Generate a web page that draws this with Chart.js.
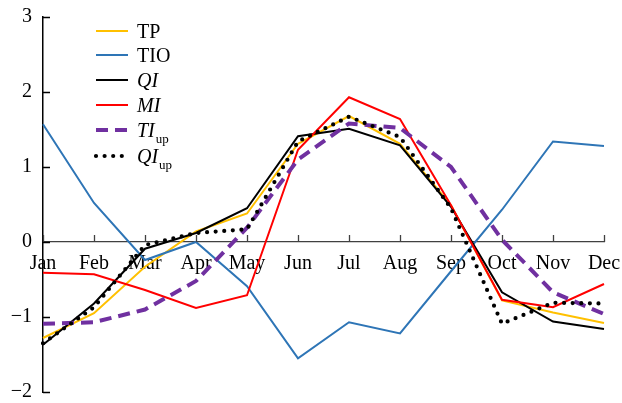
<!DOCTYPE html>
<html>
<head>
<meta charset="utf-8">
<script src="https://cdn.jsdelivr.net/npm/chart.js@4/dist/chart.umd.min.js"></script>
<style>
  html, body { margin: 0; padding: 0; background: #fff; }
  #wrap { position: relative; width: 622px; height: 403px; }
</style>
</head>
<body>
<div id="wrap"><canvas id="c"></canvas></div>
<script>
// Months along the horizontal axis
const months = ['Jan', 'Feb', 'Mar', 'Apr', 'May', 'Jun', 'Jul', 'Aug', 'Sep', 'Oct', 'Nov', 'Dec'];

// Monthly index values
const TP    = [-1.28, -0.95, -0.33, 0.14, 0.38, 1.31, 1.68, 1.31, 0.49, -0.78, -0.94, -1.08];
const TIO   = [1.57, 0.52, -0.24, 0.00, -0.59, -1.55, -1.07, -1.22, -0.39, 0.43, 1.34, 1.28];
const QI    = [-1.37, -0.82, -0.09, 0.12, 0.45, 1.41, 1.51, 1.29, 0.47, -0.67, -1.06, -1.16];
const MI    = [-0.41, -0.43, -0.64, -0.88, -0.71, 1.23, 1.93, 1.64, 0.49, -0.77, -0.87, -0.56];
const TIup  = [-1.09, -1.07, -0.90, -0.52, 0.19, 1.10, 1.58, 1.52, 1.00, 0.03, -0.67, -0.96];
const QIup  = [-1.35, -0.87, -0.04, 0.12, 0.17, 1.34, 1.67, 1.40, 0.45, -1.09, -0.81, -0.82];

// Legend entries: main text, whether italic, subscript
const seriesNames  = ['TP', 'TIO', 'QI', 'MI', 'TI', 'QI'];
const seriesItalic = [false, false, true, true, true, true];
const seriesSub    = ['', '', '', '', 'up', 'up'];

// Vertical axis range and tick labels
const yMin = -2, yMax = 3;
const yTickLabels = ['\u22122', '\u22121', '0', '1', '2', '3'];

const SERIF = '"Liberation Serif", "Times New Roman", serif';

const styles = [
  { color: '#FFC000', width: 2,   dash: [] },
  { color: '#2E75B6', width: 2,   dash: [] },
  { color: '#000000', width: 2,   dash: [] },
  { color: '#FF0000', width: 2,   dash: [] },
  { color: '#7030A0', width: 4,   dash: [12, 7], cap: 'butt' },
  { color: '#000000', width: 4.2, dash: [0, 8.6], cap: 'round' }
];
const seriesData = [TP, TIO, QI, MI, TIup, QIup];

const datasets = seriesData.map((d, i) => ({
  label: seriesNames[i] + seriesSub[i],
  data: d,
  borderColor: styles[i].color,
  backgroundColor: styles[i].color,
  borderWidth: styles[i].width,
  borderDash: styles[i].dash,
  borderCapStyle: styles[i].cap || 'butt',
  borderJoinStyle: 'miter',
  pointRadius: 0,
  tension: 0,
  fill: false,
  order: seriesData.length - i
}));

// Plot frame inside the canvas
const frame = { left: 43, right: 604, top: 17, bottom: 392 };

// Pin the plot area to the frame
const pinArea = {
  id: 'pinArea',
  afterLayout(chart) {
    const a = chart.chartArea;
    a.left = frame.left; a.right = frame.right; a.top = frame.top; a.bottom = frame.bottom;
    a.width = frame.right - frame.left; a.height = frame.bottom - frame.top;
    const { x, y } = chart.scales;
    y.top = frame.top; y.bottom = frame.bottom; y.height = a.height;
    y.right = frame.left; y.left = 0; y.width = frame.left;
    x.left = frame.left; x.right = frame.right; x.width = a.width;
    y.configure(); x.configure();
    const y0 = y.getPixelForValue(0);
    x.top = y0; x.bottom = y0 + 30; x.height = 30;
  }
};

// Short inward tick marks on both axes
const innerTicks = {
  id: 'innerTicks',
  afterDatasetsDraw(chart) {
    const { ctx, scales: { x, y } } = chart;
    const y0 = y.getPixelForValue(0);
    ctx.save();
    ctx.strokeStyle = '#404040';
    ctx.lineWidth = 1.3;
    ctx.beginPath();
    x.ticks.forEach((t, i) => {
      const px = Math.round(x.getPixelForTick(i)) + 0.5;
      ctx.moveTo(px, y0);
      ctx.lineTo(px, y0 - 7);
    });
    ctx.stroke();
    ctx.strokeStyle = '#000';
    ctx.lineWidth = 1.5;
    ctx.beginPath();
    y.ticks.forEach((t, i) => {
      const py = Math.round(y.getPixelForTick(i)) + 0.5;
      ctx.moveTo(chart.chartArea.left, py);
      ctx.lineTo(chart.chartArea.left + 7, py);
    });
    ctx.stroke();
    ctx.restore();
  }
};

// Legend with italic names and subscripts
const customLegend = {
  id: 'customLegend',
  afterDraw(chart) {
    const { ctx } = chart;
    const rows = [31, 55, 80, 105, 130, 156];
    const x0 = 96, x1 = 128, tx = 137;
    ctx.save();
    chart.data.datasets.forEach((ds, i) => {
      const yy = rows[i];
      ctx.beginPath();
      ctx.strokeStyle = ds.borderColor;
      ctx.lineWidth = ds.borderWidth;
      ctx.setLineDash(ds.borderDash);
      ctx.lineCap = ds.borderCapStyle;
      ctx.moveTo(x0, yy);
      ctx.lineTo(x1, yy);
      ctx.stroke();
      ctx.setLineDash([]);
      ctx.fillStyle = '#000';
      ctx.textBaseline = 'alphabetic';
      ctx.textAlign = 'left';
      ctx.font = (seriesItalic[i] ? 'italic ' : '') + '20px ' + SERIF;
      const base = yy + 7;
      ctx.fillText(seriesNames[i], tx, base);
      if (seriesSub[i]) {
        const w = ctx.measureText(seriesNames[i]).width;
        ctx.font = '13px ' + SERIF;
        ctx.fillText(seriesSub[i], tx + w + 1, base + 6);
      }
    });
    ctx.restore();
  }
};

new Chart(document.getElementById('c'), {
  type: 'line',
  data: { labels: months, datasets },
  options: {
    responsive: true,
    maintainAspectRatio: false,
    animation: false,
    layout: { padding: 0 },
    plugins: { legend: { display: false }, tooltip: { enabled: false } },
    scales: {
      x: {
        type: 'category',
        offset: false,
        position: { y: 0 },
        grid: { display: false, drawTicks: false },
        border: { display: true, color: '#404040', width: 1.3 },
        ticks: {
          color: '#000',
          padding: 10,
          maxRotation: 0,
          autoSkip: false,
          font: { family: SERIF, size: 20 }
        }
      },
      y: {
        min: yMin,
        max: yMax,
        grid: { display: false, drawTicks: false },
        border: { display: true, color: '#000', width: 1.5 },
        ticks: {
          stepSize: 1,
          color: '#000',
          padding: 11,
          font: { family: SERIF, size: 20 },
          callback: (v) => yTickLabels[Math.round(v) - yMin]
        }
      }
    }
  },
  plugins: [pinArea, innerTicks, customLegend]
});
</script>
</body>
</html>
